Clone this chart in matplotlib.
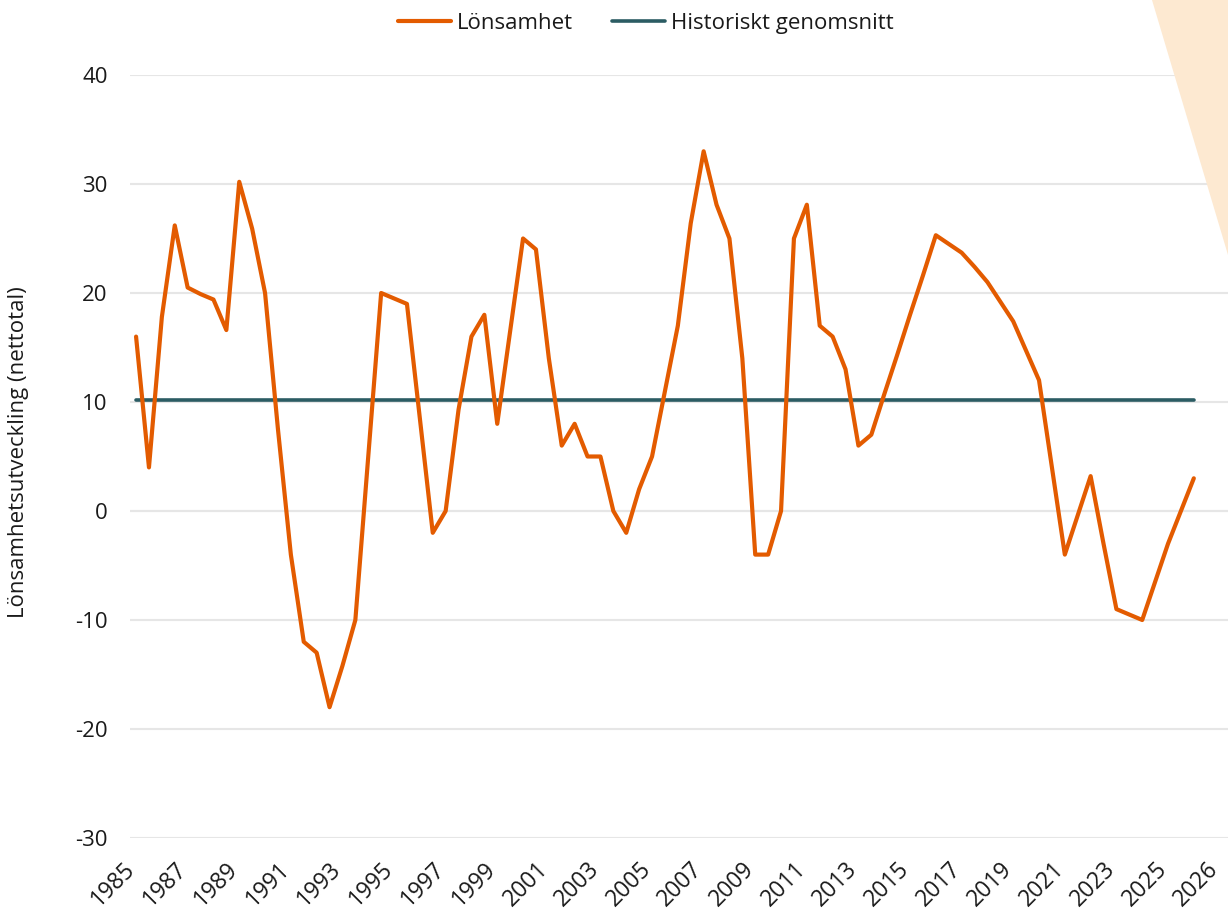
import matplotlib
matplotlib.use("Agg")
import matplotlib.pyplot as plt
from matplotlib.patches import Polygon
import matplotlib.transforms as mtransforms
import numpy as np

plt.rcParams['font.family'] = ['Open Sans', 'DejaVu Sans']
plt.rcParams['axes.unicode_minus'] = False

# Semi-annual observations, 1985 H1 ... 2026 H1
lonsamhet = [16, 4, 17.8, 26.2, 20.5, 19.9, 19.4, 16.6, 30.2, 25.9,
             20.0, 7.5, -4, -12, -13, -18, -14.2, -10, 5, 20.0,
             19.5, 19.0, 8.5, -2, 0, 9.3, 16, 18, 8, 16.5,
             25, 24, 14, 6, 8, 5, 5, 0, -2, 2,
             5, 11, 17, 26.4, 33, 28.1, 25, 14, -4, -4,
             0, 25, 28.1, 17, 16, 13, 6, 7, 10.7, 14.3,
             18, 21.6, 25.3, 24.5, 23.7, 22.4, 21, 19.2, 17.4, 14.7,
             12, 4, -4, -0.4, 3.2, -3, -9, -9.5, -10, -6.5,
             -3, 0, 3]
historiskt_snitt = 10.2
tick_labels = ['1985', '1987', '1989', '1991', '1993', '1995', '1997', '1999',
               '2001', '2003', '2005', '2007', '2009', '2011', '2013', '2015',
               '2017', '2019', '2021', '2023', '2025', '2026']
yticks = [-30, -20, -10, 0, 10, 20, 30, 40]

orange = '#E35B00'
teal = '#2B5C63'
fs = 16

fig = plt.figure(figsize=(12.28, 9.10), dpi=100)
fig.patches.append(Polygon([[1152/1228, 1.0], [1.0, 1.0], [1.0, 1 - 255/910]],
                           closed=True, transform=fig.transFigure,
                           facecolor='#FDE9D1', edgecolor='none', zorder=0))

ax = fig.add_axes([130/1228, 1 - 838/910, 1 - 130/1228, (838 - 75)/910])
ax.set_facecolor('none')

x = np.arange(len(lonsamhet))
ax.plot(x, lonsamhet, color=orange, lw=3.0, solid_joinstyle='round',
        solid_capstyle='round', label='Lönsamhet', zorder=4)
ax.plot([x[0], x[-1]], [historiskt_snitt, historiskt_snitt], color=teal, lw=2.6,
        solid_capstyle='round', label='Historiskt genomsnitt', zorder=3)

ax.set_ylim(-30, 40)
ax.set_yticks(yticks)
ax.set_xlim(-0.47, 84.65)
ax.set_xticks(np.arange(0, 4 * len(tick_labels), 4))
ax.set_xticklabels(tick_labels, rotation=45, ha='right')

for s in ax.spines.values():
    s.set_visible(False)
ax.grid(axis='y', color='#E6E6E6', lw=1.5, zorder=0)
ax.axhline(0, color='#D4D4D4', lw=1.5, zorder=1)
ax.tick_params(axis='both', length=0, labelsize=fs, labelcolor='#1a1a1a')
ax.tick_params(axis='y', pad=16)
ax.tick_params(axis='x', pad=14, labelsize=16.5)
offset = mtransforms.ScaledTranslation(4 / 100, 0, fig.dpi_scale_trans)
for lbl in ax.get_xticklabels():
    lbl.set_transform(lbl.get_transform() + offset)

ax.set_ylabel('Lönsamhetsutveckling (nettotal)', fontsize=fs, color='#1a1a1a')
ax.yaxis.set_label_coords(-0.092, 0.506)

fig.legend(loc='center', bbox_to_anchor=(0.526, 0.974), ncol=2, frameon=False,
           fontsize=fs, handlelength=2.4, handletextpad=0.25, columnspacing=1.75,
           labelcolor='#1a1a1a')

fig.savefig('out.png', dpi=100)
